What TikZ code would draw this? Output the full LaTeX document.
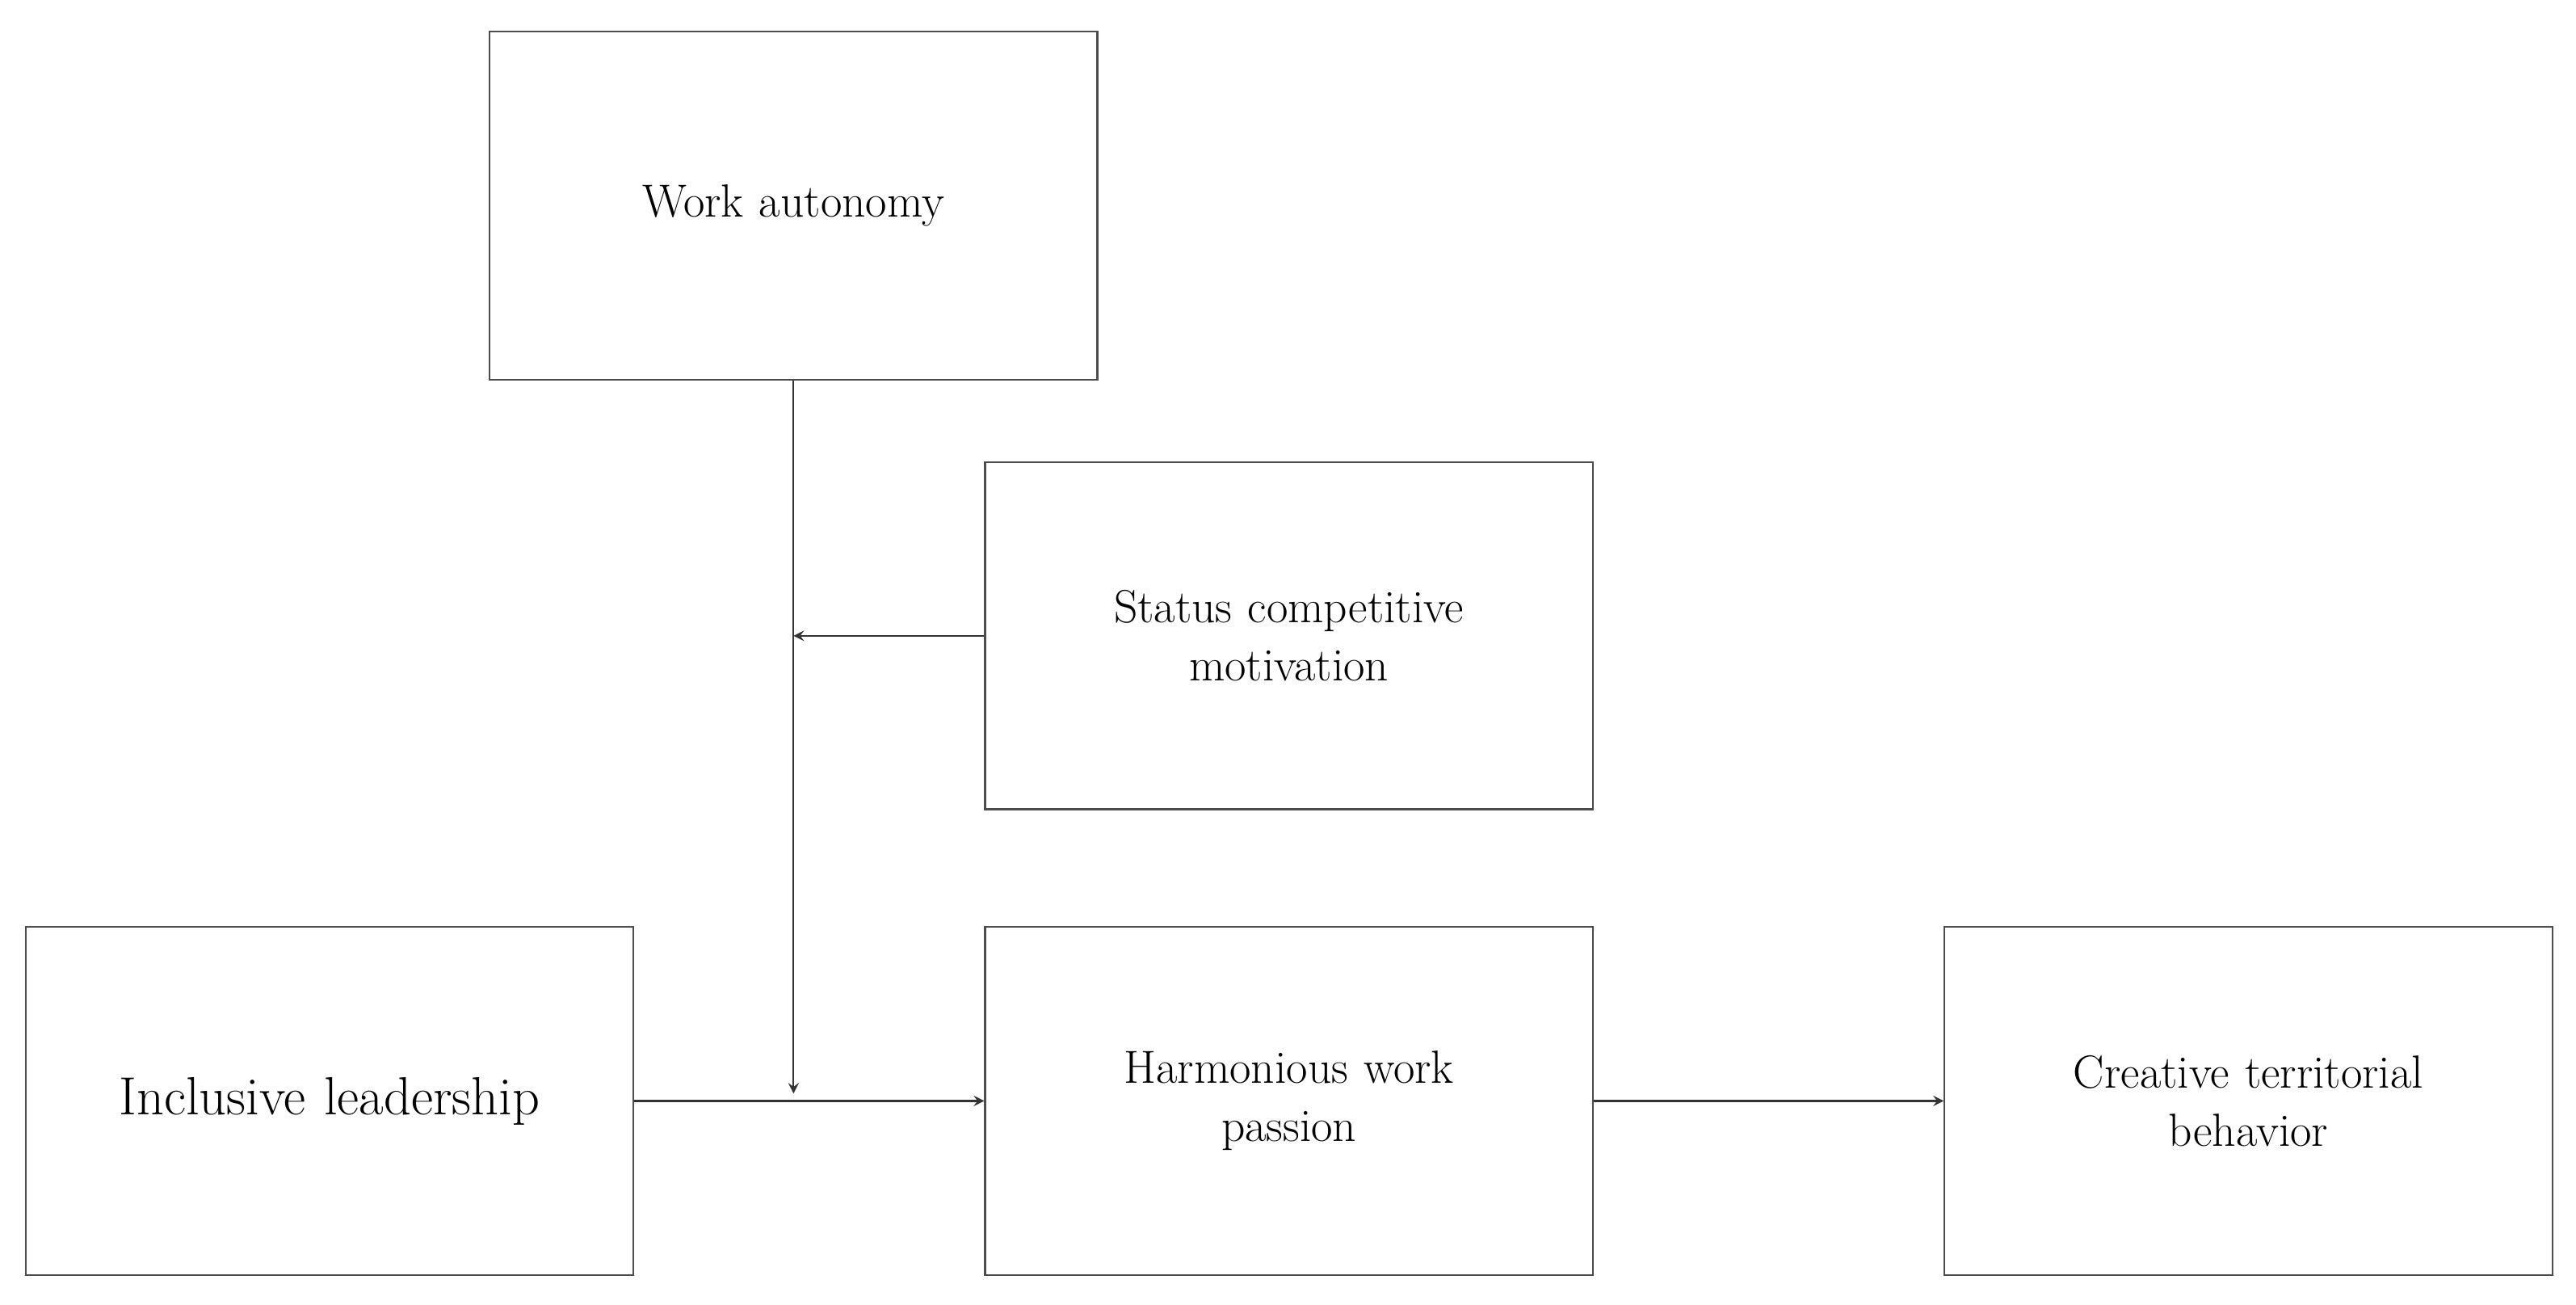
\documentclass[tikz,border=0pt]{standalone}
\usepackage{tikz}
\usetikzlibrary{positioning, arrows, calc}
\tikzstyle{arrow} = [semithick,->,>=stealth, draw=black!80]
\tikzstyle{rec} = [rectangle, minimum width=7.36cm, minimum height=4.22cm, text width=6.6cm, align=center, draw=black!70, semithick, font=\fontsize{16}{20}\selectfont]

\begin{document}
\begin{tikzpicture}
		\useasboundingbox (0,0) rectangle (31.2,15.8);
		\node (incl) [rec, font=\fontsize{18.5}{22}\selectfont] at (3.99,2.47) {Inclusive leadership};
		\node (passion) [rec, right=4.24cm of incl] {Harmonious work\\passion};
		\node (creative) [rec, right=4.24cm of passion] {Creative territorial\\behavior};
		\node (status) [rec, above=1.4cm of passion, minimum height=4.2cm] {Status competitive\\motivation};
		\node (autonomy) [rec, above=0.98cm of status, xshift=-6cm] {Work autonomy};
		\coordinate (hit) at ($(autonomy.south |- incl.east)+(0,0.09)$);
		\coordinate (mid) at (autonomy.south |- status.west);
		\draw [arrow] (incl) -- (passion);
		\draw [arrow] (passion) -- (creative);
		\draw [arrow] (autonomy.south) -- (hit);
		\draw [arrow] (status.west) -- (mid);
	\end{tikzpicture}
\end{document}
